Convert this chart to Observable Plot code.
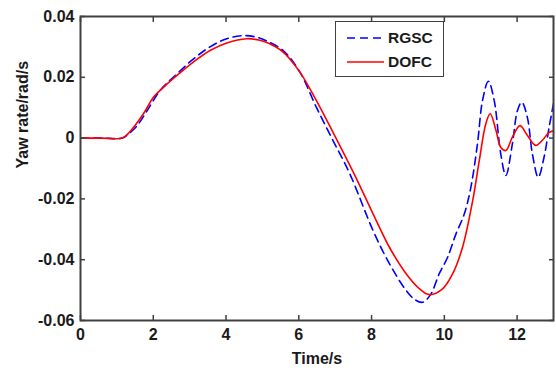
<!DOCTYPE html>
<html>
<head>
<meta charset="utf-8">
<script src="https://cdn.jsdelivr.net/npm/d3@7"></script>
<script src="https://cdn.jsdelivr.net/npm/@observablehq/plot@0.6"></script>
<style>
  body { margin: 0; background: #fff; }
  #wrap { position: relative; width: 556px; height: 373px; font-family: "Liberation Sans", Arial, sans-serif; }
  #legend { position: absolute; left: 335px; top: 21px; width: 107px; height: 54px; border: 1.5px solid #404040; background: #fff; }
  #legend .row { position: absolute; left: 0; height: 20px; display: flex; align-items: center; }
  #legend .lab { font-weight: bold; font-size: 15.5px; color: #1a1a1a; margin-left: 4px; }
</style>
</head>
<body>
<div id="wrap"></div>
<script>
// Series names
const seriesNames = ["RGSC", "DOFC"];
// RGSC (blue dashed)
const tRGSC = [0, 0.6, 1.15, 1.3, 1.55, 1.83, 2.19, 2.65, 3.1, 3.56, 4.02, 4.47, 4.84, 5.11, 5.57, 6.03, 6.48, 6.94, 7.4, 8.04, 8.49, 8.95, 9.2, 9.4, 9.62, 9.86, 10.09, 10.32, 10.55, 10.73, 10.91, 11.05, 11.21, 11.37, 11.55, 11.69, 11.87, 12.01, 12.13, 12.28, 12.42, 12.58, 12.74, 12.88, 13.0];
const vRGSC = [0, 0, 0, 0.0012, 0.004, 0.009, 0.0157, 0.0211, 0.026, 0.030, 0.0327, 0.0337, 0.0332, 0.032, 0.0288, 0.0217, 0.0102, -0.0008, -0.0117, -0.0304, -0.0413, -0.0501, -0.0532, -0.054, -0.0515, -0.0446, -0.0392, -0.0315, -0.0249, -0.0161, -0.0019, 0.0124, 0.0187, 0.0124, -0.0052, -0.0123, -0.0019, 0.0091, 0.0118, 0.0069, -0.0052, -0.0129, -0.0063, 0.0036, 0.0113];
// DOFC (red solid)
const tDOFC = [0, 0.6, 1.15, 1.35, 1.73, 2.01, 2.28, 2.65, 3.1, 3.56, 4.02, 4.57, 4.93, 5.11, 5.57, 6.03, 6.48, 6.94, 7.55, 8.04, 8.49, 8.95, 9.32, 9.59, 9.95, 10.23, 10.5, 10.78, 10.96, 11.14, 11.26, 11.42, 11.55, 11.69, 11.87, 12.08, 12.28, 12.51, 12.69, 12.88, 13.0];
const vDOFC = [0, 0, 0, 0.002, 0.008, 0.0135, 0.0167, 0.0206, 0.025, 0.0288, 0.0313, 0.0327, 0.0322, 0.0315, 0.0283, 0.0217, 0.0124, 0.0019, -0.0125, -0.0249, -0.0359, -0.0446, -0.0496, -0.0515, -0.0496, -0.0446, -0.0359, -0.0205, -0.0074, 0.0047, 0.008, 0.0025, -0.003, -0.0041, 0.0003, 0.0041, 0.0009, -0.0024, -0.0008, 0.0019, 0.0023];
// Axis ticks and labels
const xTicks = [0, 2, 4, 6, 8, 10, 12];
const yTicks = [-0.06, -0.04, -0.02, 0, 0.02, 0.04];
const xLabel = "Time/s";
const yLabel = "Yaw rate/rad/s";

const rgsc = tRGSC.map((t, i) => ({t, v: vRGSC[i]}));
const dofc = tDOFC.map((t, i) => ({t, v: vDOFC[i]}));
const fmtY = d => d === 0 ? "0" : d.toFixed(2);
const axisColor = "#404040";
const font = "'Liberation Sans', Arial, sans-serif";

const chart = Plot.plot({
  width: 556,
  height: 373,
  marginTop: 16,
  marginRight: 3,
  marginBottom: 53,
  marginLeft: 80,
  style: {fontFamily: font, fontSize: "16px", fontWeight: "bold", color: "#1a1a1a", background: "#fff"},
  x: {domain: [0, 13]},
  y: {domain: [-0.06, 0.04]},
  marks: [
    Plot.line(rgsc, {x: "t", y: "v", stroke: "#0000ff", strokeWidth: 1.6, strokeDasharray: "8,5", curve: "catmull-rom", clip: true}),
    Plot.line(dofc, {x: "t", y: "v", stroke: "#ff0000", strokeWidth: 1.6, curve: "catmull-rom", clip: true}),
    Plot.axisX({ticks: xTicks, tickSize: -5, tickPadding: 13, stroke: axisColor, strokeWidth: 1.5, label: null, fontSize: 16, fontWeight: "bold"}),
    Plot.axisX({anchor: "top", ticks: xTicks, tickSize: -5, tickFormat: () => "", stroke: axisColor, strokeWidth: 1.5, label: null}),
    Plot.axisY({ticks: yTicks, tickSize: -5, tickPadding: 11, tickFormat: fmtY, stroke: axisColor, strokeWidth: 1.5, label: null, fontSize: 16, fontWeight: "bold"}),
    Plot.axisY({anchor: "right", ticks: yTicks, tickSize: -5, tickFormat: () => "", stroke: axisColor, strokeWidth: 1.5, label: null}),
    Plot.frame({stroke: axisColor, strokeWidth: 2}),
    Plot.text([xLabel], {frameAnchor: "bottom", dy: 43, fontSize: 16, fontWeight: "bold", fill: "#1a1a1a"}),
    Plot.text([yLabel], {frameAnchor: "left", dx: -58, rotate: -90, fontSize: 16, fontWeight: "bold", fill: "#1a1a1a"})
  ]
});

const wrap = document.getElementById("wrap");
wrap.appendChild(chart);

// Legend (inside the axes, upper right)
const legend = document.createElement("div");
legend.id = "legend";
const styles = [{color: "#0000ff", dash: "8,5"}, {color: "#ff0000", dash: null}];
seriesNames.forEach((name, i) => {
  const row = document.createElement("div");
  row.className = "row";
  row.style.top = (6 + i * 24) + "px";
  const s = d3.create("svg").attr("width", 48).attr("height", 20);
  s.append("line").attr("x1", 11).attr("x2", 48).attr("y1", 10).attr("y2", 10)
    .attr("stroke", styles[i].color).attr("stroke-width", 1.6)
    .attr("stroke-dasharray", styles[i].dash);
  row.appendChild(s.node());
  const lab = document.createElement("span");
  lab.className = "lab";
  lab.textContent = name;
  row.appendChild(lab);
  legend.appendChild(row);
});
wrap.appendChild(legend);
</script>
</body>
</html>
